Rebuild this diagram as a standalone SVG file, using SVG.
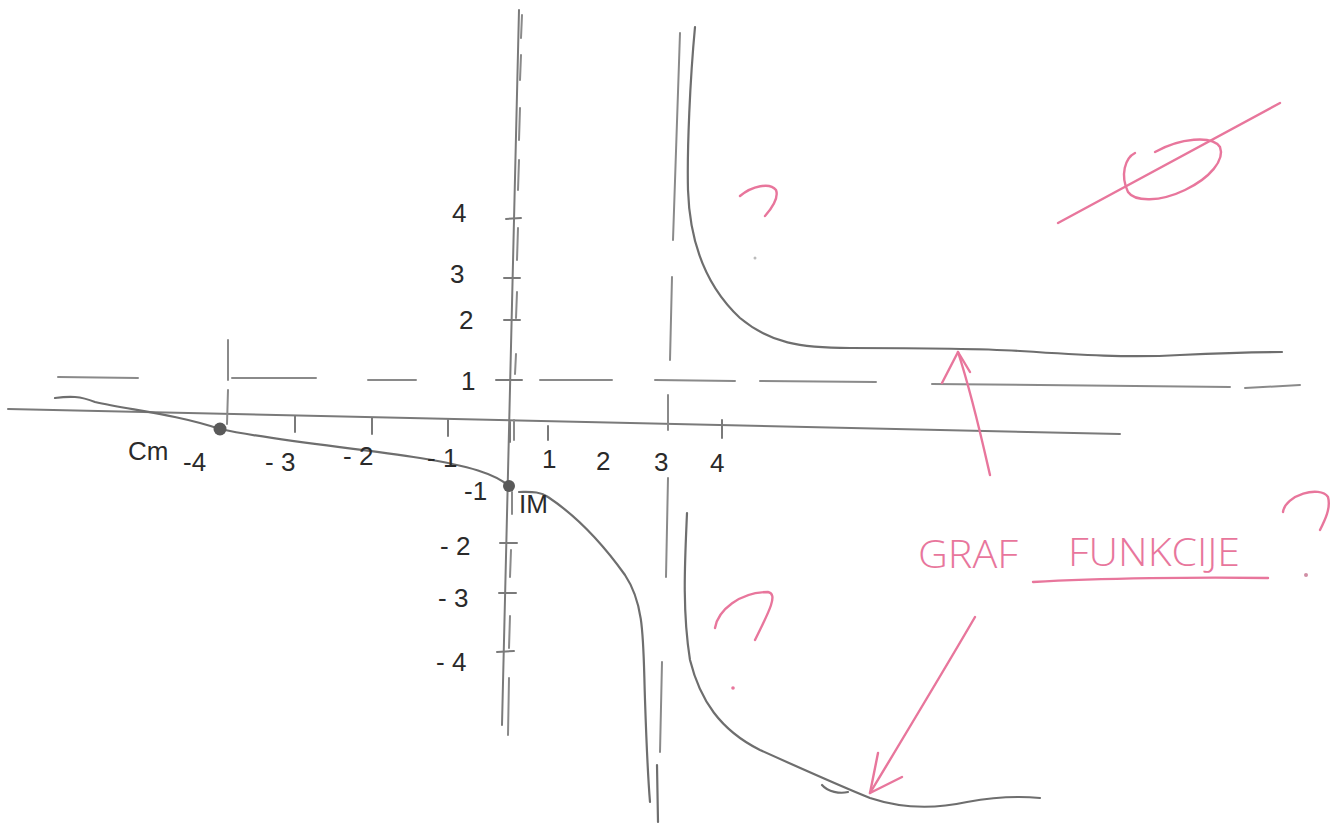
<svg xmlns="http://www.w3.org/2000/svg" width="1335" height="830" viewBox="0 0 1335 830">
<style>
.ax{fill:none;stroke:#7a7a7a;stroke-width:2;stroke-linecap:round}
.cv{fill:none;stroke:#6e6e6e;stroke-width:2.2;stroke-linecap:round;stroke-linejoin:round}
.ds{fill:none;stroke:#8a8a8a;stroke-width:2;stroke-linecap:round}
.pk{fill:none;stroke:#e8769c;stroke-width:2.4;stroke-linecap:round;stroke-linejoin:round}
.lb{font-family:"Liberation Sans",Arial,sans-serif;font-size:26px;fill:#2a2a2a}
.pt{font-family:"Open Sans","Liberation Sans",Arial,sans-serif;font-weight:300;font-size:38px;fill:#e8769c}
</style>
<rect width="1335" height="830" fill="#ffffff"/>
<g id="axes">
<path class="ax" d="M8,409 L1120,434"/>
<path class="ax" d="M519,10 L502,725"/>
</g>
<g id="axis-dashes">
<path class="ds" d="M522,15 L521,38 M521,55 L520,80 M520,108 L519,140 M519,160 L518,190 M518,228 L517,260 M517,292 L516,318 M516,354 L515,374 M514,420 L514,440 M512,492 L512,514 M511,550 L510,577 M510,616 L509,648 M509,678 L508,735"/>
</g>
<g id="y-ticks">
<path class="ax" d="M506,219 L521,218 M504,278 L520,278 M504,320 L520,320 M496,380 L522,380 M500,543 L517,543 M499,593 L516,593 M497,652 L514,651"/>
</g>
<g id="x-ticks">
<path class="ax" d="M295,416 L295,432 M372,418 L372,434 M448,420 L448,436 M510,422 L510,442 M548,426 L548,440 M722,420 L722,438"/>
</g>
<g id="asymptote-h">
<path class="ds" d="M58,377 L138,378 M232,378 L316,378 M368,380 L416,380 M540,380 L612,380 M655,380 L735,381 M760,381 L876,382 M932,384 L1230,387 M1245,388 L1300,385"/>
</g>
<g id="asymptote-v">
<path class="ds" d="M680,33 L673,240 M672,277 L670,360 M668,395 L668,430 M668,478 L666,577 M662,662 L660,752"/>
<path class="ds" d="M228,340 L228,380 M228,390 L227,424"/>
</g>
<g id="curves">
<path class="cv" d="M55,398 C70,396 80,396 95,402 C130,410 175,414 220,429 C280,442 360,448 420,458 C470,466 495,474 509,486"/>
<path class="cv" d="M519,492 C530,492 540,491 548,497 C575,515 600,540 625,575 C645,605 643,640 645,700 C647,760 649,790 650,802"/>
<path class="cv" d="M657,765 L658,822" stroke-width="1.4"/>
<path class="cv" d="M695,27 C690,80 687,150 688,190 C690,250 710,290 740,318 C770,343 800,348 850,348 C920,348 970,348 1020,351 C1080,355 1130,358 1180,355 C1220,353 1250,352 1282,352"/>
<path class="cv" d="M687,513 C685,560 682,610 690,660 C700,700 720,730 760,750 C800,768 840,786 870,798 C900,808 930,810 967,802 C1000,796 1020,796 1040,798"/>
<path class="cv" d="M822,785 C828,792 840,794 848,792" stroke-width="1.5"/>
<circle cx="220" cy="429" r="6.5" fill="#5a5a5a"/>
<circle cx="509" cy="486" r="6" fill="#5a5a5a"/>
</g>
<g id="labels">
<text class="lb" x="452" y="222" font-size="28">4</text>
<text class="lb" x="450" y="283" font-size="28">3</text>
<text class="lb" x="459" y="329">2</text>
<text class="lb" x="461" y="390" font-size="24">1</text>
<text class="lb" x="464" y="500">-1</text>
<text class="lb" x="440" y="555">- 2</text>
<text class="lb" x="438" y="607">- 3</text>
<text class="lb" x="436" y="671" font-size="28">- 4</text>
<text class="lb" x="128" y="460" font-size="34">Cm</text>
<text class="lb" x="183" y="471">-4</text>
<text class="lb" x="265" y="471">- 3</text>
<text class="lb" x="343" y="465" fill="#777">- 2</text>
<text class="lb" x="427" y="467" fill="#999" font-size="20">- 1</text>
<text class="lb" x="542" y="468" font-size="21">1</text>
<text class="lb" x="596" y="470" font-size="23">2</text>
<text class="lb" x="654" y="471">3</text>
<text class="lb" x="710" y="472">4</text>
<text class="lb" x="519" y="513" font-size="18" fill="#666">IM</text>
</g>
<g id="pink-notes">
<text class="pt" x="918" y="568" textLength="100" lengthAdjust="spacingAndGlyphs">GRAF</text>
<text class="pt" x="1068" y="566" textLength="172" lengthAdjust="spacingAndGlyphs">FUNKCIJE</text>
<path class="pk" d="M1033,582 C1100,578 1200,577 1268,578" stroke-width="3"/>
<path class="pk" d="M740,196 C752,186 770,182 776,190 C779,198 772,208 765,216"/>
<circle cx="755" cy="258" r="1.5" fill="#bbb"/>
<path class="pk" d="M715,628 C718,610 740,592 768,592 C778,594 770,610 755,640" stroke-width="2"/>
<circle cx="733" cy="688" r="1.8" fill="#e8769c"/>
<path class="pk" d="M1283,512 C1285,495 1320,485 1328,497 C1331,508 1325,520 1320,530"/>
<circle cx="1306" cy="575" r="2" fill="#d08ea5"/>
<path class="pk" d="M1058,223 L1280,103" stroke-width="2"/>
<path class="pk" d="M1135,153 C1125,158 1120,175 1128,192 C1135,202 1160,202 1185,190 C1210,178 1225,160 1220,147 C1212,135 1180,138 1155,152" stroke-width="2"/>
</g>
<g id="connectors">
<path class="pk" d="M990,475 C982,440 972,395 958,352"/>
<path class="pk" d="M942,383 L958,352 L970,372"/>
<path class="pk" d="M975,617 C950,660 920,710 870,793"/>
<path class="pk" d="M878,753 L870,793 L902,777"/>
</g>
</svg>
